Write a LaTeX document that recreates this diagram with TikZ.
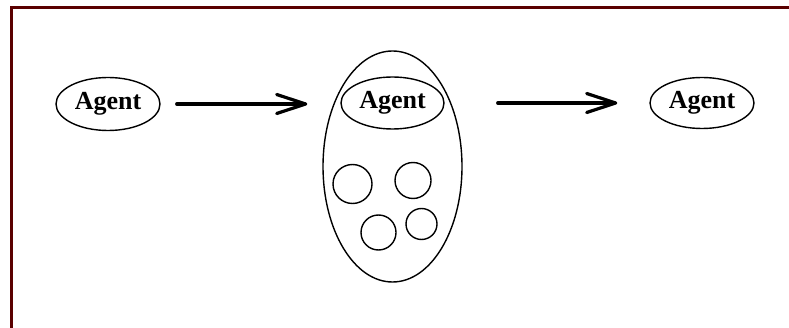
\documentclass[tikz,border=0pt]{standalone}
\usepackage{fontspec}
\setmainfont{Liberation Serif}
\usetikzlibrary{shapes.geometric,arrows.meta}
\definecolor{framered}{RGB}{90,0,0}
\tikzset{
  agent/.style={ellipse,draw,line width=1.4pt,inner sep=0pt,
    minimum width=104pt,minimum height=53pt,font=\fontsize{26}{26}\selectfont\bfseries},
  blob/.style={circle,draw,line width=1.4pt,inner sep=0pt},
  flow/.style={line width=3.2pt,line cap=round,
    -{Straight Barb[length=29pt,width=19pt,line width=3.2pt,round]}},
  frameline/.style={draw=framered,line width=3pt}
}
\begin{document}
\begin{tikzpicture}[x=1pt,y=-1pt]
  \useasboundingbox (0,0) rectangle (789,328);
  % frame edges
  \coordinate (ftl) at (11.5,7.5);
  \coordinate (ftr) at (789,7.5);
  \coordinate (fbl) at (11.5,328);
  \path[frameline] (fbl) -- (ftl) -- (ftr);
  % agents
  \node[agent] (left) at (108,104) {Agent};
  \node[ellipse,draw,line width=1.4pt,inner sep=0pt,
        minimum width=139pt,minimum height=231pt] (cell) at (392.5,166.5) {};
  \node[agent,minimum width=103pt,minimum height=52pt] (inner) at (392.5,103) {Agent};
  \node[agent,minimum height=51pt] (right) at (702,103) {Agent};
  % small bodies inside the cell
  \node[blob,minimum size=39pt] (b1) at (352.5,184) {};
  \node[blob,minimum size=36pt] (b2) at (413,180.5) {};
  \node[blob,minimum size=35pt] (b3) at (378.5,232.5) {};
  \node[blob,minimum size=31pt] (b4) at (421.5,224) {};
  % transitions
  \draw[flow,shorten <=16pt,shorten >=15pt] (left.east) -- (cell.west |- left.east);
  \draw[flow,shorten <=35pt,shorten >=32pt] (inner.east -| cell.east) -- (right.west);
\end{tikzpicture}
\end{document}
